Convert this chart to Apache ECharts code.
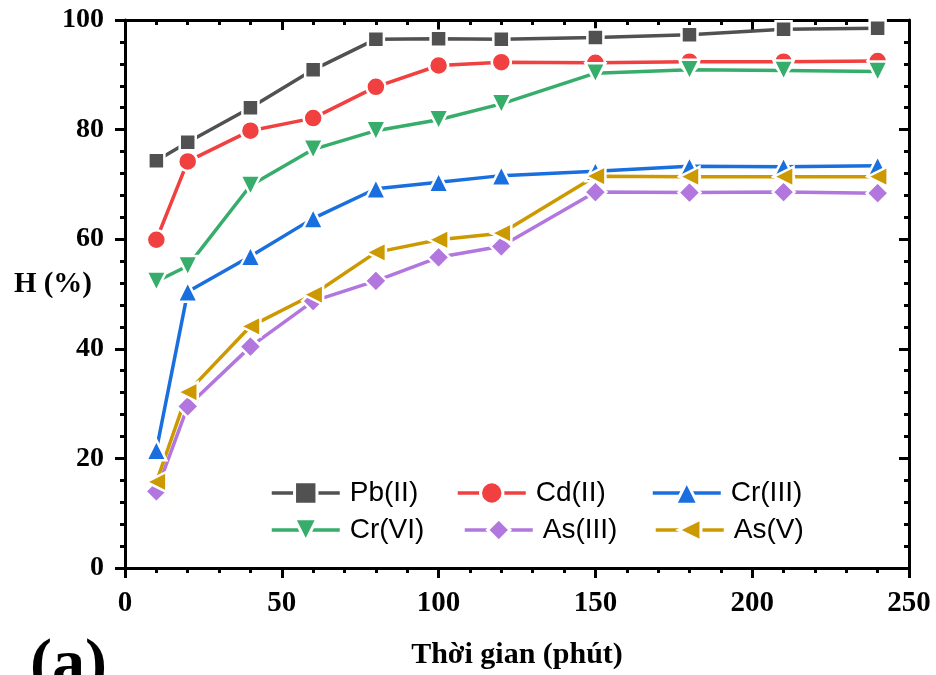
<!DOCTYPE html>
<html>
<head>
<meta charset="utf-8">
<script src="https://cdn.jsdelivr.net/npm/echarts@6/dist/echarts.min.js"></script>
<style>
  html, body { margin: 0; padding: 0; background: #fff; }
  #chart { width: 936px; height: 675px; }
</style>
</head>
<body>
<div id="chart"></div>
<script>
// Contact time (minutes)
const times = [10, 20, 40, 60, 80, 100, 120, 150, 180, 210, 240];

// Removal efficiency H (%) for each ion
const pb2  = [74.3, 77.7, 84.0, 90.9, 96.5, 96.6, 96.5, 96.8, 97.3, 98.3, 98.5];
const cd2  = [59.9, 74.2, 79.8, 82.1, 87.8, 91.7, 92.3, 92.2, 92.4, 92.4, 92.5];
const cr3  = [21.5, 50.4, 56.9, 63.8, 69.2, 70.4, 71.6, 72.4, 73.3, 73.2, 73.4];
const cr6  = [52.3, 55.1, 69.8, 76.4, 79.8, 81.8, 84.7, 90.3, 90.9, 90.8, 90.6];
const as3  = [14.0, 29.5, 40.4, 48.7, 52.4, 56.7, 58.7, 68.6, 68.5, 68.6, 68.4];
const as5  = [15.7, 32.1, 44.1, 49.9, 57.6, 59.9, 61.1, 71.5, 71.4, 71.4, 71.4];

const seriesNames  = ['Pb(II)', 'Cd(II)', 'Cr(III)', 'Cr(VI)', 'As(III)', 'As(V)'];
const seriesValues = [pb2, cd2, cr3, cr6, as3, as5];

const colors      = ['#515151', '#F14040', '#1A6FDF', '#37AD6B', '#B177DE', '#CC9900'];
const symbols     = ['rect', 'circle', 'triangle', 'triangle', 'diamond', 'triangle'];
const symbolRots  = [0, 0, 0, 180, 0, 90];
const symbolSizes = [16, 19, 20, 20, 22, 20];

// legend placement: three columns, two rows inside the plot
const legendLeft = [270, 456, 651, 270, 463, 654];
const legendTop  = [479, 479, 479, 516, 516, 516];

const xTicks = { min: 0, max: 250, interval: 50 };
const yTicks = { min: 0, max: 100, interval: 20 };

const xTitle = 'Thời gian (phút)';
const yTitle = 'H (%)';
const panelTag = '(a)';

const serif = '"Liberation Serif", "Times New Roman", serif';
const sans  = '"Liberation Sans", Arial, sans-serif';

const chart = echarts.init(document.getElementById('chart'), null, { renderer: 'canvas' });

const axisLineStyle = { color: '#000', width: 3 };

const series = seriesNames.map((name, k) => ({
  name: name,
  type: 'line',
  xAxisIndex: 0,
  yAxisIndex: 0,
  data: times.map((t, i) => [t, seriesValues[k][i]]),
  symbol: symbols[k],
  symbolRotate: symbolRots[k],
  symbolSize: symbolSizes[k],
  lineStyle: { color: colors[k], width: 3.5 },
  itemStyle: { color: colors[k], borderColor: '#fff', borderWidth: 2.5 },
  emphasis: { disabled: true },
  animation: false
}));

const legends = seriesNames.map((name, k) => ({
  data: [name],
  left: legendLeft[k],
  top: legendTop[k],
  padding: 0,
  itemWidth: 68,
  itemHeight: 28,
  selectedMode: false,
  itemStyle: { borderColor: '#fff', borderWidth: 3 },
  lineStyle: { width: 3.5 },
  textStyle: { fontFamily: sans, fontSize: 28, color: '#000', padding: [0, 0, 0, 5] }
}));

chart.setOption({
  backgroundColor: '#fff',
  animation: false,
  grid: { left: 125, right: 27, top: 20, bottom: 107, containLabel: false, outerBoundsMode: 'none' },
  legend: legends,
  xAxis: [
    {
      type: 'value', position: 'bottom',
      min: xTicks.min, max: xTicks.max, interval: xTicks.interval,
      name: xTitle, nameLocation: 'middle', nameGap: 72, nameMoveOverlap: false,
      nameTextStyle: { fontFamily: serif, fontWeight: 'bold', fontSize: 30, color: '#000' },
      axisLine: { onZero: false, lineStyle: axisLineStyle },
      axisTick: { inside: false, length: 10, lineStyle: { width: 3, color: '#000' } },
      minorTick: { show: true, splitNumber: 5, length: 5, lineStyle: { width: 3, color: '#000' } },
      axisLabel: { margin: 21, fontFamily: serif, fontWeight: 'bold', fontSize: 29, color: '#000' },
      splitLine: { show: false }
    },
    {
      type: 'value', position: 'top',
      min: xTicks.min, max: xTicks.max, interval: xTicks.interval,
      axisLine: { onZero: false, lineStyle: axisLineStyle },
      axisTick: { inside: true, length: 10, lineStyle: { width: 3, color: '#000' } },
      minorTick: { show: true, splitNumber: 5, length: 5, lineStyle: { width: 3, color: '#000' } },
      axisLabel: { show: false },
      splitLine: { show: false }
    }
  ],
  yAxis: [
    {
      type: 'value', position: 'left',
      min: yTicks.min, max: yTicks.max, interval: yTicks.interval,
      axisLine: { onZero: false, lineStyle: axisLineStyle },
      axisTick: { inside: false, length: 10, lineStyle: { width: 3, color: '#000' } },
      minorTick: { show: true, splitNumber: 5, length: 5, lineStyle: { width: 3, color: '#000' } },
      axisLabel: { margin: 21, fontFamily: serif, fontWeight: 'bold', fontSize: 28, color: '#000' },
      splitLine: { show: false }
    },
    {
      type: 'value', position: 'right',
      min: yTicks.min, max: yTicks.max, interval: yTicks.interval,
      axisLine: { onZero: false, lineStyle: axisLineStyle },
      axisTick: { inside: true, length: 10, lineStyle: { width: 3, color: '#000' } },
      minorTick: { show: true, splitNumber: 5, length: 5, lineStyle: { width: 3, color: '#000' } },
      axisLabel: { show: false },
      splitLine: { show: false }
    }
  ],
  graphic: [
    {
      // y-axis title, set horizontally beside the axis
      type: 'text', right: 844, top: 270,
      style: { text: yTitle, fontFamily: serif, fontWeight: 'bold', fontSize: 29, fill: '#000' }
    },
    {
      type: 'text', left: 30, top: 634,
      style: { text: panelTag, fontFamily: serif, fontWeight: 'bold', fontSize: 66, fill: '#000' }
    }
  ],
  series: series
});
</script>
</body>
</html>
